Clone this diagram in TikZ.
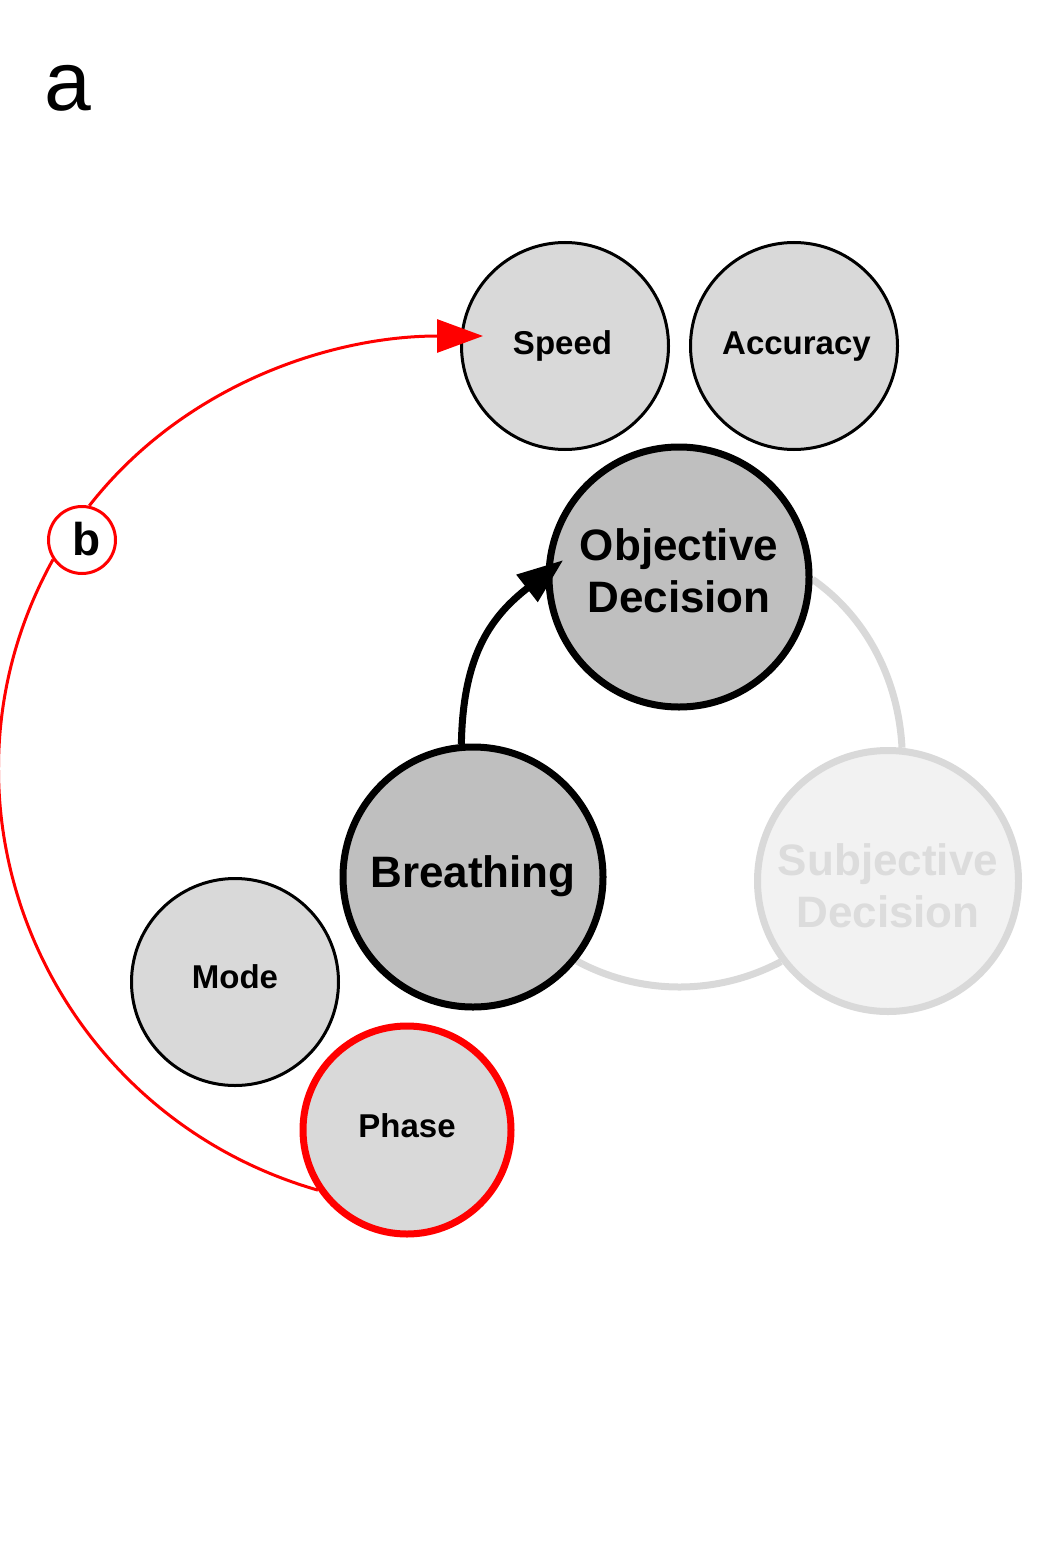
\documentclass[tikz,border=0pt]{standalone}
\usepackage{fontspec}
\setmainfont{Liberation Sans}
\usetikzlibrary{arrows.meta,calc}
\pgfdeclarelayer{bg}
\pgfsetlayers{bg,main}
\definecolor{lg}{HTML}{D9D9D9}
\definecolor{mg}{HTML}{BFBFBF}
\definecolor{pale}{HTML}{F2F2F2}
\definecolor{paletext}{HTML}{DCDCDC}
\definecolor{myred}{HTML}{FF0000}
% #1 = baseline of first line relative to node centre, #2 = extra line gap
\newcommand\twolines[4]{\raisebox{#1}[0pt][0pt]{\begin{tabular}[t]{@{}c@{}}#3\\[#2]#4\end{tabular}}}
\newcommand\oneline[2]{\raisebox{#1}[0pt][0pt]{#2}}
\begin{document}
\begin{tikzpicture}[x=1pt,y=1pt,
  smallnode/.style={circle, draw=black, line width=3pt, fill=lg, minimum size=207pt, inner sep=0pt,
    font=\fontsize{33}{40}\selectfont\bfseries},
  bignode/.style={circle, draw=black, line width=7pt, fill=mg, minimum size=260pt, inner sep=0pt,
    font=\fontsize{44}{52}\selectfont\bfseries},
  fadednode/.style={circle, draw=lg, line width=7pt, fill=pale, text=paletext, minimum size=261pt, inner sep=0pt,
    font=\fontsize{44}{52}\selectfont\bfseries},
  labelnode/.style={circle, draw=myred, line width=3pt, fill=white, minimum size=67pt, inner sep=0pt,
    font=\fontsize{46}{52}\selectfont\bfseries},
  grayedge/.style={lg, line width=7pt},
  blackedge/.style={black, line width=7pt, -{Triangle[length=46pt,width=33pt]}},
  rededge/.style={myred, line width=3pt},
]
\useasboundingbox (0,0) rectangle (1036,-1554);

\node (lbl) at (67.5,-88.5) {\fontsize{84}{96}\selectfont a};

\node[smallnode] (Sp) at (565,-346) {\oneline{-8pt}{\kern-5pt Speed}};
\node[smallnode] (Ac) at (794,-346) {\oneline{-8pt}{Accuracy\kern-5pt}};
\node[bignode] (OD) at (679,-577) {\twolines{16.7pt}{0pt}{Objective}{Decision}};
\node[bignode] (Br) at (473,-877) {\oneline{-10.7pt}{Breathing}};
\node[fadednode] (SD) at (888,-881) {\twolines{6pt}{0pt}{Subjective}{Decision}};
\node[smallnode] (Mo) at (235,-982) {\oneline{-6.7pt}{Mode}};
\node[smallnode, draw=myred, line width=7pt, minimum size=208pt] (Ph) at (407,-1130) {\oneline{-7pt}{Phase}};
\node[labelnode] (b) at (82,-540) {\oneline{-15pt}{\kern9pt b}};

\coordinate (odtip) at ($(OD.center)+(171.7:117)$);
\coordinate (sptip) at ($(Sp.west)+(23,10)$);

\begin{pgfonlayer}{bg}
  \draw[grayedge] (OD.-1.8) to[out=-35, in=93, looseness=0.9] (SD.84);
  \draw[grayedge] (SD.217) to[out=208, in=331.6, looseness=0.906] (Br.-39);
\end{pgfonlayer}

\draw[blackedge] (Br.95.6) to[out=89, in=218, looseness=1.1] (odtip);

\draw[rededge] (Ph.214) to[out=164, in=241, looseness=1.05] (b.214);
\draw[rededge, -{Triangle[length=46pt,width=33pt]}] (b.78) to[out=52, in=180, looseness=0.91] (sptip);
\end{tikzpicture}
\end{document}
